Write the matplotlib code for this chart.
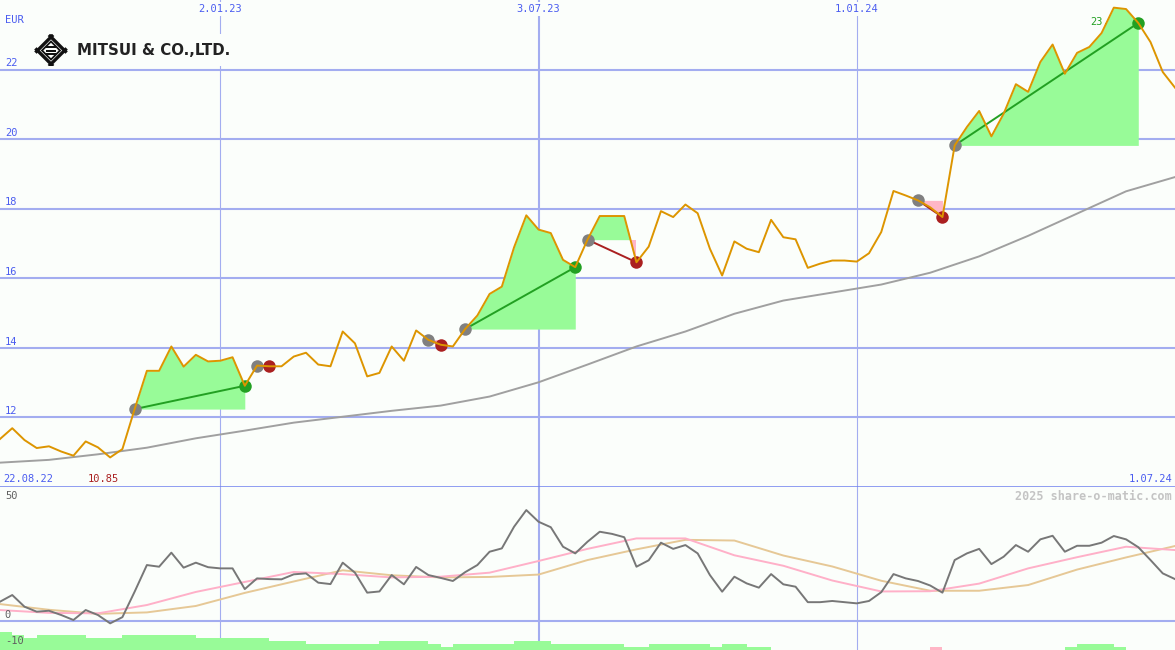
"""Weekly price chart with trade markers and a lower oscillator panel."""

import matplotlib
matplotlib.use("Agg")
import matplotlib.pyplot as plt
import matplotlib.dates as mdates
import matplotlib.transforms as mtransforms
from matplotlib.patches import Polygon, Rectangle
import numpy as np
import pandas as pd

# ---- data ----
first_week = "2022-08-29"
start_label = "22.08.22"
end_label = "1.07.24"

price = [11.38, 11.69, 11.35, 11.12, 11.17, 11.02, 10.90, 11.31, 11.14, 10.85, 11.09,
         12.24, 13.34, 13.34, 14.04, 13.46, 13.80, 13.61, 13.63, 13.73, 12.91,
         13.49, 13.47, 13.47, 13.75, 13.86, 13.52, 13.47, 14.47, 14.13, 13.18,
         13.28, 14.04, 13.63, 14.50, 14.23, 14.09, 14.04, 14.54, 14.93, 15.55,
         15.76, 16.89, 17.81, 17.40, 17.30, 16.53, 16.32, 17.11, 17.79, 17.79,
         17.79, 16.46, 16.91, 17.93, 17.76, 18.12, 17.87, 16.85, 16.08, 17.06,
         16.85, 16.75, 17.68, 17.18, 17.12, 16.30, 16.42, 16.51, 16.51, 16.48,
         16.72, 17.33, 18.51, 18.38, 18.24, 18.04, 17.76, 19.82, 20.35, 20.81,
         20.08, 20.73, 21.58, 21.36, 22.22, 22.72, 21.88, 22.48, 22.65, 23.05,
         23.78, 23.74, 23.34, 22.79, 21.93, 21.48]

# slow moving average, one value every 4 weeks
ma_long = [10.70, 10.78, 10.94, 11.13, 11.40, 11.62, 11.85, 12.02, 12.19, 12.34,
           12.60, 13.01, 13.52, 14.04, 14.47, 14.98, 15.36, 15.59, 15.82, 16.16,
           16.63, 17.22, 17.86, 18.50, 18.91]

osc = [8.1, 10.9, 6.0, 3.9, 4.3, 2.5, 0.4, 4.6, 2.5, -1.0, 1.6,
       12.3, 23.5, 22.8, 28.7, 22.4, 24.5, 22.6, 22.1, 22.1, 13.4,
       17.9, 17.6, 17.5, 19.6, 20.0, 16.1, 15.5, 24.5, 20.3, 11.9,
       12.4, 19.3, 15.4, 22.7, 19.3, 18.1, 16.8, 20.5, 23.5, 29.1,
       30.5, 39.6, 46.6, 41.7, 39.4, 31.2, 28.4, 33.3, 37.5, 36.6,
       35.2, 22.8, 25.5, 32.9, 30.3, 31.9, 28.4, 19.3, 12.3, 18.6,
       15.8, 14.0, 19.7, 15.4, 14.4, 7.9, 7.9, 8.4, 7.9, 7.4,
       8.4, 12.1, 19.7, 17.9, 16.8, 14.9, 11.9, 25.6, 28.4, 30.3,
       23.9, 27.0, 31.9, 29.1, 34.3, 35.8, 29.1, 31.6, 31.6, 32.9,
       35.7, 34.3, 31.0, 25.6, 20.0, 17.6]

# smoothed oscillator lines, one value every 4 weeks
osc_fast = [4.6, 3.4, 3.2, 6.7, 12.2, 16.4, 20.6, 19.7, 18.3, 18.6, 20.3, 25.2,
            30.3, 34.7, 34.7, 27.6, 23.2, 17.0, 12.4, 12.5, 15.7, 22.1, 26.8,
            31.2, 29.8]
osc_slow = [7.1, 4.7, 3.0, 3.6, 6.3, 11.8, 16.6, 21.3, 19.2, 18.3, 18.5, 19.5,
            25.6, 30.1, 34.1, 33.8, 27.5, 22.9, 16.9, 12.7, 12.7, 15.1, 21.6,
            26.7, 31.5]

# signal strength bars at the bottom (negative = pink)
strength = [6, 5, 4, 5, 5, 5, 5, 4, 4, 4, 5, 5, 5, 5, 5, 5, 4, 4, 4, 4, 4, 4,
            3, 3, 3, 2, 2, 2, 2, 2, 2, 3, 3, 3, 3, 2, 1, 2, 2, 2, 2, 2, 3, 3, 3,
            2, 2, 2, 2, 2, 2, 1, 1, 2, 2, 2, 2, 2, 1, 2, 2, 1, 1, 0, 0, 0, 0, 0,
            0, 0, 0, 0, 0, 0, 0, 0, -1, 0, 0, 0, 0, 0, 0, 0, 0, 0, 0, 1, 2, 2, 2,
            1, 0, 0, 0, 0, 0]

# (entry week, exit week)
trades = [(11, 20), (21, 22), (35, 36), (38, 47), (48, 52), (75, 77), (78, 93)]

price_ticks = [12, 14, 16, 18, 20, 22]
lower_ticks = [50, 0, -10]
grid_dates = ["2023-01-02", "2023-07-03", "2024-01-01"]
grid_labels = ["2.01.23", "3.07.23", "1.01.24"]

# ---- style ----
BG = "#fbfefb"
GRID = "#a3adf0"
LABEL = "#4a5cf0"
PRICE = "#dd9500"
GREEN_FILL = "#98fb98"
PINK_FILL = "#ffb6c6"
WIN = "#22a022"
LOSS = "#aa2020"
MONO = "DejaVu Sans Mono"

W, H = 1175, 650
TOP_H = 487

weeks = pd.date_range(first_week, periods=len(price), freq="7D")
x = mdates.date2num(weeks)
x4 = x[::4]
price = np.array(price)

fig = plt.figure(figsize=(W / 100, H / 100), dpi=100, facecolor=BG)
ax = fig.add_axes([0, (H - TOP_H) / H, 1, TOP_H / H])
ax2 = fig.add_axes([0, 0, 1, (H - TOP_H) / H])
for a in (ax, ax2):
    a.set_facecolor(BG)
    a.set_xlim(x[0], x[-1])
    a.set_xticks([])
    a.set_yticks([])
    for s in a.spines.values():
        s.set_visible(False)

ax.set_ylim(10, 24.0)
ax2.set_ylim(-12.2, 56.3)

# grid
for v in price_ticks:
    ax.axhline(v, color=GRID, lw=1.5, zorder=1)
    ax.annotate(str(v), xy=(0, v), xycoords=("axes fraction", "data"),
                xytext=(3.5, 4.5), textcoords="offset points", va="center",
                color=LABEL, fontsize=7.5, family=MONO)
ax2.axhline(0, color=GRID, lw=1.5, zorder=1)
for d, lab in zip(grid_dates, grid_labels):
    xd = mdates.date2num(pd.Timestamp(d))
    lw = 1.5 if lab == "3.07.23" else 0.8
    ax.axvline(xd, color=GRID, lw=lw, zorder=1)
    ax2.axvline(xd, color=GRID, lw=lw, zorder=1)
    ax.text(xd, 1 - 9 / TOP_H, lab,
            transform=mtransforms.blended_transform_factory(ax.transData, ax.transAxes),
            ha="center", va="center", color=LABEL, fontsize=7.5, family=MONO,
            bbox=dict(fc=BG, ec="none", pad=1.5), zorder=3)
ax.axhline(10, color="#6e80ee", lw=1.8, zorder=6)

# price panel
ax.plot(x4, ma_long, color="#a0a0a0", lw=1.4, zorder=3)
for a_i, b_i in trades:
    seg_x = x[a_i:b_i + 1]
    seg_p = price[a_i:b_i + 1]
    base = price[a_i]
    ax.fill_between(seg_x, base, seg_p, where=seg_p >= base, interpolate=True,
                    color=GREEN_FILL, lw=0, zorder=2)
    ax.fill_between(seg_x, base, seg_p, where=seg_p < base, interpolate=True,
                    color=PINK_FILL, lw=0, zorder=2)
    col = WIN if price[b_i] > base else LOSS
    ax.plot([x[a_i], x[b_i]], [base, price[b_i]], color=col, lw=1.4, zorder=4)
    ax.plot(x[a_i], base, "o", color="#808080", ms=9, mew=0, zorder=5)
    ax.plot(x[b_i], price[b_i], "o", color=col, ms=9, mew=0, zorder=5)
ax.plot(x, price, color=PRICE, lw=1.4, zorder=6)

last_exit = trades[-1][1]
ax.annotate(f"{price[last_exit]:.2f}", xy=(x[last_exit], price[last_exit]),
            xytext=(-12, 1), textcoords="offset points", ha="right", va="center",
            color=WIN, fontsize=7.5, family=MONO, zorder=1.5)

low_i = int(np.argmin(price))
ax.text(3 / W, 8 / TOP_H, start_label, transform=ax.transAxes,
        ha="left", va="center", color=LABEL, fontsize=7.5, family=MONO)
ax.text(88 / W, 8 / TOP_H, f"{price[low_i]:.2f}", transform=ax.transAxes,
        ha="left", va="center", color=LOSS, fontsize=7.5, family=MONO)
ax.text(1172 / W, 8 / TOP_H, end_label, transform=ax.transAxes,
        ha="right", va="center", color=LABEL, fontsize=7.5, family=MONO)
ax.text(5 / W, 1 - 20 / TOP_H, "EUR", transform=ax.transAxes,
        ha="left", va="center", color=LABEL, fontsize=7.5, family=MONO)

# lower panel
ax2.plot(x4, osc_slow, color="#e6c896", lw=1.4, zorder=3)
ax2.plot(x4, osc_fast, color="#ffb0c8", lw=1.4, zorder=3)
ax2.plot(x, osc, color="#777777", lw=1.4, zorder=4)
ax2.text(1172 / W, 1 - 9 / (H - TOP_H), "2025 share-o-matic.com", transform=ax2.transAxes,
         ha="right", va="center", color="#c4c4c4", fontsize=8.5, family=MONO,
         fontweight="bold")

axb = ax2.twinx()
axb.set_ylim(0, (H - TOP_H) / 3)
axb.set_axis_off()
strength = np.array(strength)
axb.bar(x, np.abs(strength), width=7, align="edge",
        color=[GREEN_FILL if s > 0 else PINK_FILL for s in strength], lw=0)
for v in lower_ticks:
    off = 4.5 if v >= 0 else 2.5
    axb.annotate(str(v), xy=(0, v), xycoords=("axes fraction", ax2.transData),
                 xytext=(3.5, off), textcoords="offset points", va="center",
                 color="#606060", fontsize=7.5, family=MONO, zorder=5)

# logo
lg = fig.add_axes([30 / W, 1 - 66 / H, 210 / W, 32 / H])
lg.set_xlim(0, 210)
lg.set_ylim(32, 0)
lg.set_facecolor(BG)
lg.set_xticks([])
lg.set_yticks([])
for s in lg.spines.values():
    s.set_visible(False)
cx, cy, r = 21, 16.5, 13.5
corners = [(cx, cy - r), (cx + r, cy), (cx, cy + r), (cx - r, cy)]
for i in range(4):
    p0 = np.array(corners[i])
    p1 = np.array(corners[(i + 1) % 4])
    d = (p1 - p0) / np.linalg.norm(p1 - p0) * 3
    lg.plot([p0[0] - d[0], p1[0] + d[0]], [p0[1] - d[1], p1[1] + d[1]],
            color="#111111", lw=2.4, solid_capstyle="butt")
r2 = 9
lg.add_patch(Polygon([(cx, cy - r2), (cx + r2, cy), (cx, cy + r2), (cx - r2, cy)],
                     closed=True, fill=False, ec="#111111", lw=1.3))
for dy in (-3.5, 0, 3.5):
    lg.add_patch(Rectangle((cx - 5, cy + dy - 1), 10, 2, color="#111111", lw=0))
lg.text(47, 16.5, "MITSUI & CO.,LTD.", ha="left", va="center", color="#222222",
        fontsize=10.8, fontweight="bold", family="DejaVu Sans")

fig.savefig("out.png", dpi=100, facecolor=BG)
